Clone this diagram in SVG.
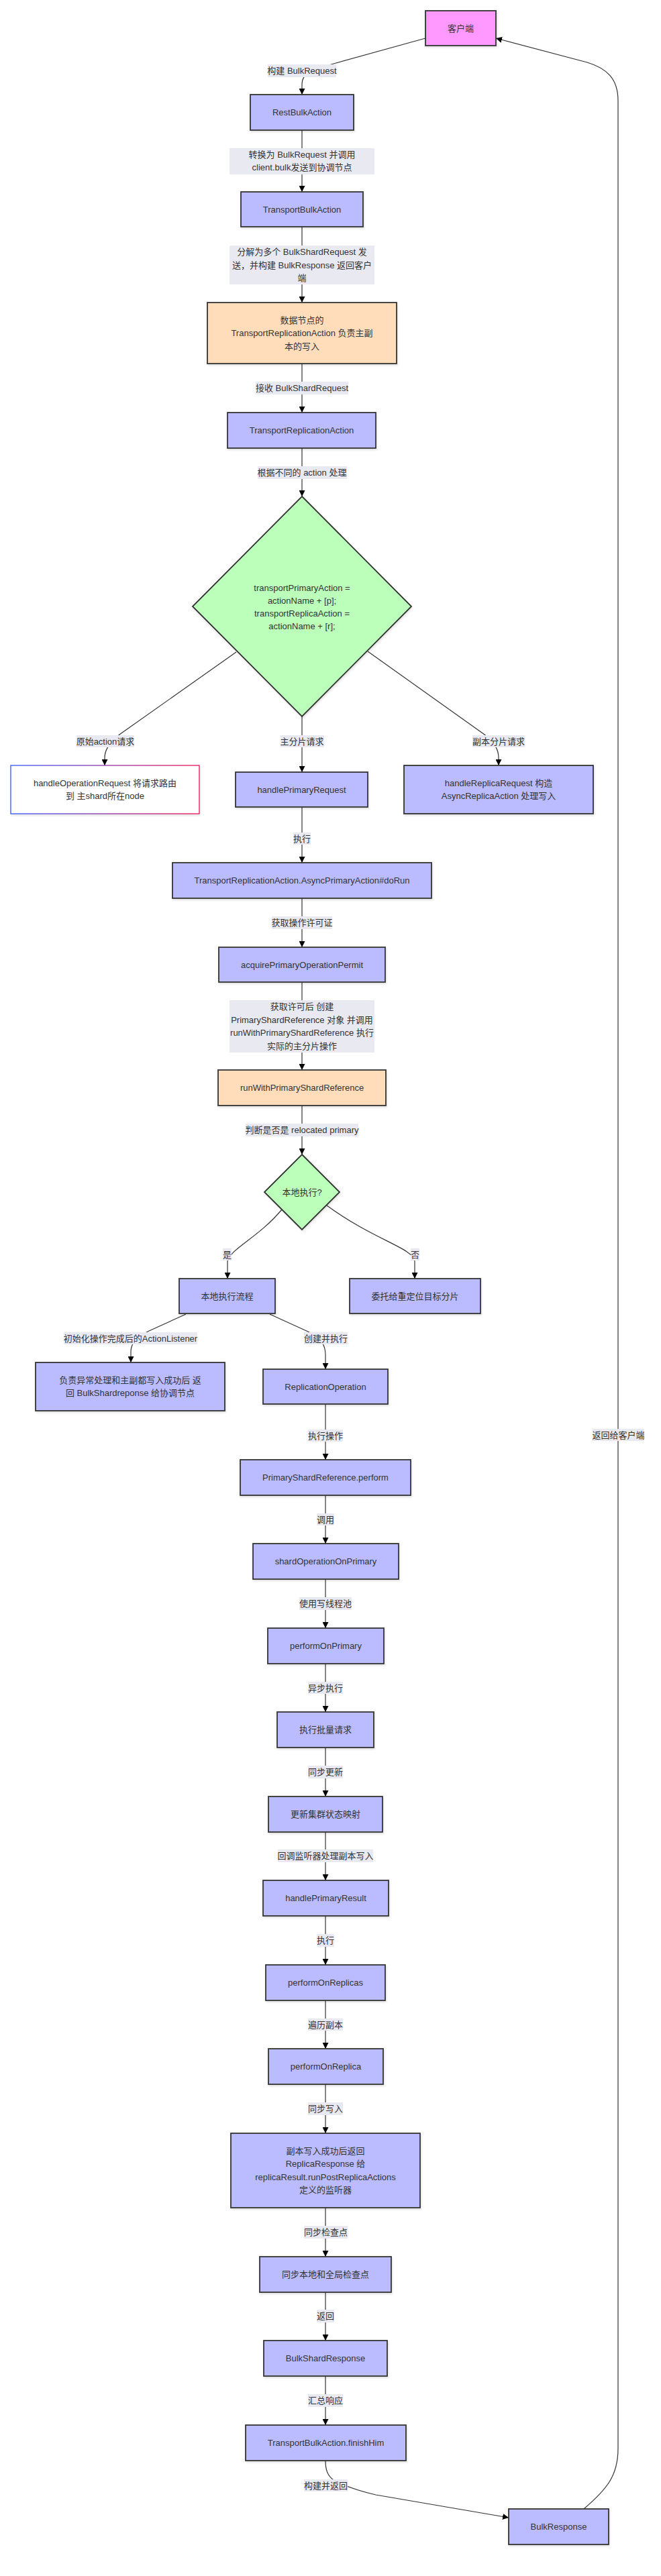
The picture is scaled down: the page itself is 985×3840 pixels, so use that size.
<svg xmlns="http://www.w3.org/2000/svg" width="985" height="3840" viewBox="0 0 985 3840">
<defs>
<style>
text{font-family:"Liberation Sans",Arial,"Noto Sans CJK SC",sans-serif;font-size:13px;fill:#333;text-anchor:middle;dominant-baseline:central}
.n{fill:#bbf;stroke:#333;stroke-width:1.8;filter:url(#sh)}
.p{fill:#fdb;stroke:#333;stroke-width:1.8;filter:url(#sh)}
.c{fill:#f9f;stroke:#333;stroke-width:1.8;filter:url(#sh)}
.d{fill:#bfb;stroke:#333;stroke-width:1.8;filter:url(#sh)}
.g{fill:#fff;stroke:url(#gr);stroke-width:1.3;filter:url(#sh)}
.e{fill:none;stroke:#333;stroke-width:1.2;marker-end:url(#ah)}
.lb{fill:#e9e9f1}
</style>
<marker id="ah" viewBox="0 0 10 10" refX="10" refY="5" markerUnits="userSpaceOnUse" markerWidth="9" markerHeight="9" orient="auto">
<path d="M0,0 L10,5 L0,10 z" fill="#000"/>
</marker>
<linearGradient id="gr" x1="0" y1="0" x2="1" y2="0">
<stop offset="0" stop-color="#3355ff"/>
<stop offset="1" stop-color="#ee1155"/>
</linearGradient>
<filter id="sh" x="-10%" y="-10%" width="120%" height="130%">
<feDropShadow dx="1" dy="2" stdDeviation="1.5" flood-color="#000" flood-opacity="0.12"/>
</filter>
</defs>
<rect width="985" height="3840" fill="#fff"/>

<g id="connectors">
<path class="e" d="M634,57 L497,95 C458,106 450,112 450,125 L450,141"/>
<path class="e" d="M450,194 L450,286"/>
<path class="e" d="M450,338 L450,451"/>
<path class="e" d="M450,542 L450,615"/>
<path class="e" d="M450,668 L450,740"/>
<path class="e" d="M352,972 L178,1095 C160,1110 156,1120 156,1130 L156,1141"/>
<path class="e" d="M450,1068 L450,1151"/>
<path class="e" d="M548,971 L722,1095 C738,1108 743,1118 743,1130 L743,1141"/>
<path class="e" d="M450,1203 L450,1286"/>
<path class="e" d="M450,1339 L450,1412"/>
<path class="e" d="M450,1464 L450,1595"/>
<path class="e" d="M450,1648 L450,1721"/>
<path class="e" d="M420,1803 C385,1845 345,1860 339,1880 L339,1906"/>
<path class="e" d="M487,1797 C560,1850 615,1860 618,1880 L618,1906"/>
<path class="e" d="M277,1959 L222,1984 C200,1995 195,2005 195,2015 L195,2031"/>
<path class="e" d="M402,1959 L459,1985 C480,1997 485,2005 485,2020 L485,2041"/>
<path class="e" d="M485,2093 L485,2176"/>
<path class="e" d="M485,2229 L485,2301"/>
<path class="e" d="M485,2354 L485,2427"/>
<path class="e" d="M485,2480 L485,2552"/>
<path class="e" d="M485,2605 L485,2678"/>
<path class="e" d="M485,2731 L485,2803"/>
<path class="e" d="M485,2856 L485,2929"/>
<path class="e" d="M485,2982 L485,3054"/>
<path class="e" d="M485,3107 L485,3180"/>
<path class="e" d="M485,3291 L485,3364"/>
<path class="e" d="M485,3417 L485,3489"/>
<path class="e" d="M485,3542 L485,3615"/>
<path class="e" d="M485,3668 C485,3682 488,3690 497,3697 C510,3704 530,3712 560,3719 L758,3753"/>
<path class="e" d="M870,3740 C905,3710 921,3690 921,3650 L921,150 C921,118 905,102 875,93 L739,57"/>

<rect class="lb" x="399" y="96" width="102" height="19"/>
<text x="450" y="105.5">构建 BulkRequest</text>
<rect class="lb" x="342" y="221" width="216" height="39"/>
<text x="450" y="230.7">转换为 BulkRequest 并调用</text>
<text x="450" y="249.5">client.bulk发送到协调节点</text>
<rect class="lb" x="342" y="366" width="216" height="58"/>
<text x="450" y="375.7">分解为多个 BulkShardRequest 发</text>
<text x="450" y="395">送，并构建 BulkResponse 返回客户</text>
<text x="450" y="414.2">端</text>
<rect class="lb" x="381" y="569" width="138" height="19"/>
<text x="450" y="578.8">接收 BulkShardRequest</text>
<rect class="lb" x="384" y="695" width="133" height="19"/>
<text x="450" y="704.5">根据不同的 action 处理</text>
<rect class="lb" x="114" y="1096" width="86" height="18"/>
<text x="157" y="1105">原始action请求</text>
<rect class="lb" x="418" y="1096" width="65" height="18"/>
<text x="450" y="1105">主分片请求</text>
<rect class="lb" x="704" y="1096" width="78" height="18"/>
<text x="743" y="1105">副本分片请求</text>
<rect class="lb" x="437" y="1241" width="26" height="18"/>
<text x="450" y="1250">执行</text>
<rect class="lb" x="405" y="1366" width="90" height="19"/>
<text x="450" y="1375.5">获取操作许可证</text>
<rect class="lb" x="342" y="1491" width="216" height="78"/>
<text x="450" y="1500.7">获取许可后 创建</text>
<text x="450" y="1520">PrimaryShardReference 对象 并调用</text>
<text x="450" y="1539.5">runWithPrimaryShardReference 执行</text>
<text x="450" y="1559">实际的主分片操作</text>
<rect class="lb" x="366" y="1675" width="168" height="19"/>
<text x="450" y="1684.5">判断是否是 relocated primary</text>
<rect class="lb" x="332" y="1861" width="13" height="18"/>
<text x="338.5" y="1870">是</text>
<rect class="lb" x="612" y="1861" width="13" height="18"/>
<text x="618.5" y="1870">否</text>
<rect class="lb" x="95" y="1986" width="199" height="18"/>
<text x="194.5" y="1995">初始化操作完成后的ActionListener</text>
<rect class="lb" x="453" y="1986" width="65" height="18"/>
<text x="485.5" y="1995">创建并执行</text>
<rect class="lb" x="459" y="2131" width="52" height="18"/>
<text x="485" y="2140">执行操作</text>
<rect class="lb" x="472" y="2256" width="26" height="18"/>
<text x="485" y="2265">调用</text>
<rect class="lb" x="446" y="2381" width="78" height="19"/>
<text x="485" y="2390.5">使用写线程池</text>
<rect class="lb" x="459" y="2507" width="52" height="18"/>
<text x="485" y="2516">异步执行</text>
<rect class="lb" x="459" y="2632" width="52" height="19"/>
<text x="485" y="2641.5">同步更新</text>
<rect class="lb" x="414" y="2757" width="142" height="19"/>
<text x="485" y="2766.7">回调监听器处理副本写入</text>
<rect class="lb" x="472" y="2883" width="26" height="19"/>
<text x="485" y="2892.5">执行</text>
<rect class="lb" x="459" y="3009" width="52" height="18"/>
<text x="485" y="3018">遍历副本</text>
<rect class="lb" x="459" y="3134" width="52" height="19"/>
<text x="485" y="3143.5">同步写入</text>
<rect class="lb" x="453" y="3318" width="65" height="19"/>
<text x="485.5" y="3327.5">同步检查点</text>
<rect class="lb" x="472" y="3443" width="26" height="19"/>
<text x="485" y="3452.5">返回</text>
<rect class="lb" x="459" y="3569" width="52" height="19"/>
<text x="485" y="3578.5">汇总响应</text>
<rect class="lb" x="453" y="3696" width="65" height="18"/>
<text x="485.5" y="3705">构建并返回</text>
<rect class="lb" x="883" y="2130" width="77" height="18"/>
<text x="921.5" y="2139">返回给客户端</text>
</g>

<g id="client"><rect class="c" x="634" y="16" width="105" height="52"/><text x="686.5" y="42">客户端</text></g>
<g id="rest"><rect class="n" x="373" y="141" width="154" height="53"/><text x="450" y="167.5">RestBulkAction</text></g>
<g id="tba"><rect class="n" x="359" y="286" width="182" height="52"/><text x="450" y="312">TransportBulkAction</text></g>
<g id="datanode"><rect class="p" x="309" y="451" width="282" height="91"/>
<text x="450" y="477">数据节点的</text><text x="450" y="496.5">TransportReplicationAction 负责主副</text><text x="450" y="516">本的写入</text></g>
<g id="tra"><rect class="n" x="339" y="615" width="221" height="53"/><text x="449.5" y="641.5">TransportReplicationAction</text></g>
<g id="decision1"><polygon class="d" points="450,740 613,904 450,1068 287,904"/>
<text x="450" y="876">transportPrimaryAction =</text><text x="450" y="895">actionName + [p];</text><text x="450" y="914.3">transportReplicaAction =</text><text x="450" y="933.3">actionName + [r];</text></g>
<g id="handleOp"><rect class="g" x="16" y="1141" width="281" height="72"/>
<text x="156.5" y="1167.7">handleOperationRequest 将请求路由</text><text x="156.5" y="1186.7">到 主shard所在node</text></g>
<g id="handlePrimary"><rect class="n" x="351" y="1151" width="197" height="52"/><text x="449.5" y="1177">handlePrimaryRequest</text></g>
<g id="handleReplica"><rect class="n" x="602" y="1141" width="282" height="72"/>
<text x="743" y="1167.7">handleReplicaRequest 构造</text><text x="743" y="1186.7">AsyncReplicaAction 处理写入</text></g>
<g id="doRun"><rect class="n" x="257" y="1286" width="386" height="53"/><text x="450" y="1312.5">TransportReplicationAction.AsyncPrimaryAction#doRun</text></g>
<g id="acquire"><rect class="n" x="326" y="1412" width="248" height="52"/><text x="450" y="1438">acquirePrimaryOperationPermit</text></g>
<g id="runWith"><rect class="p" x="325" y="1595" width="250" height="53"/><text x="450" y="1621.5">runWithPrimaryShardReference</text></g>
<g id="decision2"><polygon class="d" points="450,1721 506,1777 450,1833 394,1777"/><text x="450" y="1777">本地执行?</text></g>
<g id="localFlow"><rect class="n" x="267" y="1906" width="143" height="52"/><text x="338.5" y="1932">本地执行流程</text></g>
<g id="delegate"><rect class="n" x="521" y="1906" width="195" height="52"/><text x="618.5" y="1932">委托给重定位目标分片</text></g>
<g id="exception"><rect class="n" x="53" y="2031" width="282" height="72"/>
<text x="194" y="2057.7">负责异常处理和主副都写入成功后 返</text><text x="194" y="2076.7">回 BulkShardreponse 给协调节点</text></g>
<g id="replOp"><rect class="n" x="392" y="2041" width="186" height="52"/><text x="485" y="2067">ReplicationOperation</text></g>
<g id="perform"><rect class="n" x="358" y="2176" width="254" height="53"/><text x="485" y="2202.5">PrimaryShardReference.perform</text></g>
<g id="shardOp"><rect class="n" x="377" y="2301" width="217" height="53"/><text x="485.5" y="2327.5">shardOperationOnPrimary</text></g>
<g id="performOnPrimary"><rect class="n" x="399" y="2427" width="173" height="53"/><text x="485.5" y="2453.5">performOnPrimary</text></g>
<g id="batch"><rect class="n" x="413" y="2552" width="144" height="53"/><text x="485" y="2578.5">执行批量请求</text></g>
<g id="updateCluster"><rect class="n" x="400" y="2678" width="170" height="53"/><text x="485" y="2704.5">更新集群状态映射</text></g>
<g id="handlePrimaryResult"><rect class="n" x="392" y="2803" width="187" height="53"/><text x="485.5" y="2829.5">handlePrimaryResult</text></g>
<g id="performOnReplicas"><rect class="n" x="396" y="2929" width="178" height="53"/><text x="485" y="2955.5">performOnReplicas</text></g>
<g id="performOnReplica"><rect class="n" x="400" y="3054" width="171" height="53"/><text x="485.5" y="3080.5">performOnReplica</text></g>
<g id="replicaResp"><rect class="n" x="344" y="3180" width="282" height="111"/>
<text x="485" y="3206.3">副本写入成功后返回</text><text x="485" y="3225.7">ReplicaResponse 给</text><text x="485" y="3245.3">replicaResult.runPostReplicaActions</text><text x="485" y="3264.5">定义的监听器</text></g>
<g id="checkpoint"><rect class="n" x="387" y="3364" width="196" height="53"/><text x="485" y="3390.5">同步本地和全局检查点</text></g>
<g id="bulkShardResp"><rect class="n" x="393" y="3489" width="184" height="53"/><text x="485" y="3515.5">BulkShardResponse</text></g>
<g id="finishHim"><rect class="n" x="366" y="3615" width="239" height="53"/><text x="485.5" y="3641.5">TransportBulkAction.finishHim</text></g>
<g id="bulkResponse"><rect class="n" x="758" y="3740" width="149" height="53"/><text x="832.5" y="3766.5">BulkResponse</text></g>
</svg>
